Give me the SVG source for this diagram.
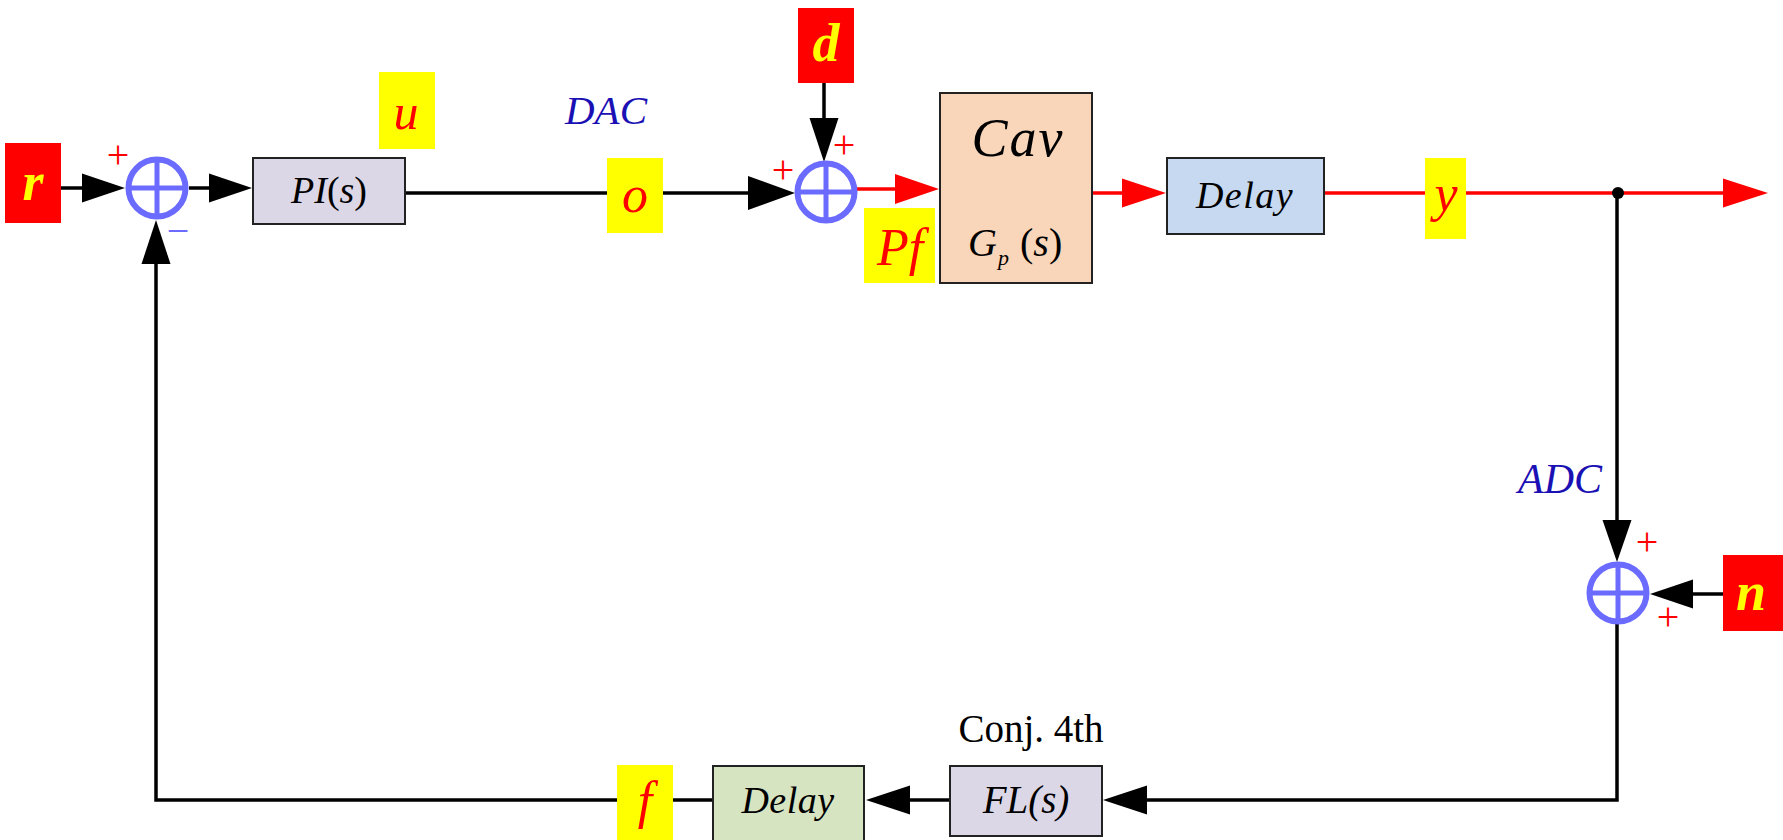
<svg xmlns="http://www.w3.org/2000/svg" width="1783" height="840" viewBox="0 0 1783 840">
<style>
.blk{stroke:#000;stroke-width:3.5;fill:none}
.red{stroke:#f00;stroke-width:3.5;fill:none}
.ahb{fill:#000}
.ahr{fill:#f00}
.box{stroke:#222;stroke-width:2}
.sum{fill:none;stroke:#6b6bff;stroke-width:6}
.sumx{stroke:#6b6bff;stroke-width:5}
.t{font-family:"Liberation Serif","Times New Roman",serif}
.sig{font-family:"Liberation Serif","Times New Roman",serif;font-style:italic;text-anchor:middle}
.ys{fill:#ff0}
.rs{fill:#f00}
.pl{font-family:"Liberation Serif","Times New Roman",serif;font-size:40px;fill:#f00;text-anchor:middle}
.lbl{font-family:"Liberation Serif","Times New Roman",serif;font-style:italic;fill:#1a10b4;text-anchor:middle}
</style>
<rect width="1783" height="840" fill="#fff"/>
<g id="connectors">
<line class="blk" x1="61" y1="188" x2="90" y2="188"/>
<polygon class="ahb" points="125,188 82,173.5 82,202.5"/>
<line class="blk" x1="189" y1="188" x2="215" y2="188"/>
<polygon class="ahb" points="252,188 209,173.5 209,202.5"/>
<line class="blk" x1="405" y1="193" x2="760" y2="193"/>
<polygon class="ahb" points="795,193 748,176 748,210"/>
<line class="blk" x1="824" y1="83" x2="824" y2="125"/>
<polygon class="ahb" points="824,162 809.5,118 838.5,118"/>
<line class="red" x1="857" y1="189" x2="905" y2="189"/>
<polygon class="ahr" points="939,189 895,174 895,204"/>
<line class="red" x1="1092" y1="193" x2="1130" y2="193"/>
<polygon class="ahr" points="1166,193 1122,178.5 1122,207.5"/>
<line class="red" x1="1324" y1="193" x2="1730" y2="193"/>
<polygon class="ahr" points="1768,193 1723,178.5 1723,207.5"/>
<circle cx="1618" cy="193" r="6" fill="#000"/>
<line class="blk" x1="1617" y1="193" x2="1617" y2="525"/>
<polygon class="ahb" points="1617,562 1602.5,520 1631.5,520"/>
<line class="blk" x1="1723" y1="594" x2="1688" y2="594"/>
<polygon class="ahb" points="1650,594 1693,579.5 1693,608.5"/>
<polyline class="blk" points="1617,624 1617,800 1140,800"/>
<polygon class="ahb" points="1103,800 1147,785.5 1147,814.5"/>
<line class="blk" x1="950" y1="800" x2="905" y2="800"/>
<polygon class="ahb" points="866,800 910,785.5 910,814.5"/>
<polyline class="blk" points="713,800 156,800 156,258"/>
<polygon class="ahb" points="156,220 141.5,264 170.5,264"/>
</g>
<g id="r"><rect x="5" y="143" width="56" height="80" class="rs"/><text class="sig ys" x="33" y="200" font-size="54" font-weight="bold">r</text></g>
<g id="sum1"><circle cx="157" cy="188" r="28.5" class="sum"/><line class="sumx" x1="128" y1="188" x2="186" y2="188"/><line class="sumx" x1="157" y1="159" x2="157" y2="217"/>
<text class="pl" x="118" y="168">+</text><text class="t" x="178" y="244" font-size="40" fill="#6b6bff" text-anchor="middle">−</text></g>
<g id="pi"><rect x="253" y="158" width="152" height="66" fill="#dcd7e6" class="box"/><text class="t" x="329" y="203" font-size="38" text-anchor="middle"><tspan font-style="italic">PI</tspan>(<tspan font-style="italic">s</tspan>)</text></g>
<g id="u"><rect x="379" y="72" width="56" height="77" class="ys"/><text class="sig rs" x="406" y="129" font-size="50">u</text></g>
<g id="dac"><text class="lbl" x="606" y="124" font-size="41">DAC</text></g>
<g id="o"><rect x="607" y="158" width="56" height="75" class="ys"/><text class="sig rs" x="635" y="212" font-size="52">o</text></g>
<g id="d"><rect x="798" y="8" width="56" height="75" class="rs"/><text class="sig ys" x="826" y="61" font-size="54" font-weight="bold">d</text></g>
<g id="sum2"><circle cx="826" cy="192" r="28.5" class="sum"/><line class="sumx" x1="797" y1="192" x2="855" y2="192"/><line class="sumx" x1="826" y1="163" x2="826" y2="221"/>
<text class="pl" x="783" y="183">+</text><text class="pl" x="844" y="158">+</text></g>
<g id="pf"><rect x="864" y="208" width="71" height="75" class="ys"/><text class="sig rs" x="900" y="265" font-size="52">Pf</text></g>
<g id="cav"><rect x="940" y="93" width="152" height="190" fill="#f9d6b9" class="box"/>
<text class="sig" x="1018" y="156" font-size="54" letter-spacing="2" fill="#000">Cav</text>
<text x="968" y="256" fill="#000" style="font-family:'Liberation Serif','Times New Roman',serif;font-size:40px"><tspan style="font-style:italic">G</tspan><tspan style="font-style:italic;font-size:22px" x="998" dy="9">p</tspan><tspan dy="-9" x="1020">(</tspan><tspan style="font-style:italic">s</tspan>)</text></g>
<g id="delay1"><rect x="1167" y="158" width="157" height="76" fill="#c6d9f0" class="box"/><text class="sig" x="1245" y="208" font-size="38" letter-spacing="1.5" fill="#000">Delay</text></g>
<g id="y"><rect x="1425" y="158" width="41" height="81" class="ys"/><text class="sig rs" x="1446" y="211" font-size="52">y</text></g>
<g id="adc"><text class="lbl" x="1560" y="493" font-size="42">ADC</text></g>
<g id="sum3"><circle cx="1618" cy="593" r="28.5" class="sum"/><line class="sumx" x1="1589" y1="593" x2="1647" y2="593"/><line class="sumx" x1="1618" y1="564" x2="1618" y2="622"/>
<text class="pl" x="1647" y="555">+</text><text class="pl" x="1668" y="630">+</text></g>
<g id="n"><rect x="1723" y="555" width="60" height="76" class="rs"/><text class="sig ys" x="1751" y="610" font-size="54" font-weight="bold">n</text></g>
<g id="fl"><rect x="950" y="766" width="152" height="70" fill="#dcd7e6" class="box"/><text class="sig" x="1026" y="813" font-size="39" fill="#000">FL(s)</text>
<text class="t" x="1031" y="742" font-size="39" text-anchor="middle" fill="#000">Conj. 4th</text></g>
<g id="delay2"><rect x="713" y="766" width="151" height="84" fill="#d7e4c1" class="box"/><text class="sig" x="788" y="813" font-size="38" letter-spacing="0.5" fill="#000">Delay</text></g>
<g id="f"><rect x="617" y="765" width="56" height="75" class="ys"/><text class="sig rs" x="645" y="818" font-size="52">f</text></g>
</svg>
